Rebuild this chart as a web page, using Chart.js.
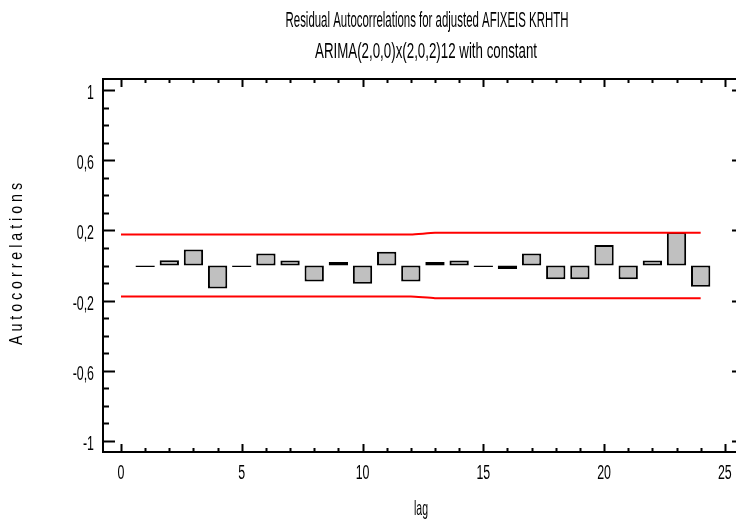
<!DOCTYPE html>
<html>
<head>
<meta charset="utf-8">
<script src="https://cdn.jsdelivr.net/npm/chart.js@4.4.1/dist/chart.umd.min.js"></script>
<style>
  html, body { margin: 0; padding: 0; background: #fff; overflow: hidden; }
  #wrap { width: 745px; height: 525px; }
</style>
</head>
<body>
<div id="wrap"><canvas id="acf"></canvas></div>
<script>
// residual autocorrelations by lag
const lags = [1, 2, 3, 4, 5, 6, 7, 8, 9, 10, 11, 12, 13, 14, 15, 16, 17, 18, 19, 20, 21, 22, 23, 24]
const acf = [-0.008, 0.030, 0.092, -0.132, -0.008, 0.068, 0.028, -0.091, 0.02, -0.104, 0.079, -0.091,
             0.02, 0.028, -0.008, -0.02, 0.068, -0.079, -0.079, 0.117, -0.079, 0.028, 0.192, -0.121]

// 95% probability limits
const limitLags = [0, 1, 2, 3, 4, 5, 6, 7, 8, 9, 10, 11, 12, 13, 14, 15, 16, 17, 18, 19, 20, 21, 22, 23, 24]
const upperLimit = [0.177, 0.177, 0.177, 0.177, 0.177, 0.177, 0.177, 0.177, 0.177, 0.177, 0.177, 0.177, 0.177,
                    0.187, 0.187, 0.187, 0.187, 0.187, 0.187, 0.187, 0.187, 0.187, 0.187, 0.187, 0.187]
const lowerLimit = [-0.177, -0.177, -0.177, -0.177, -0.177, -0.177, -0.177, -0.177, -0.177, -0.177, -0.177, -0.177, -0.177,
                    -0.187, -0.187, -0.187, -0.187, -0.187, -0.187, -0.187, -0.187, -0.187, -0.187, -0.187, -0.187]

// tick labels
const xTicks = [0, 5, 10, 15, 20, 25]
const yTicks = [-1, -0.6, -0.2, 0.2, 0.6, 1]

const titleText = 'Residual Autocorrelations for adjusted AFIXEIS KRHTH'
const subtitleText = 'ARIMA(2,0,0)x(2,0,2)12 with constant'
const yTitle = 'A u t o c o r r e l a t i o n s'
const xTitle = 'lag'

const FONT = "'Liberation Sans', Arial, sans-serif"

function fmt(v) {
  return String(+v.toFixed(2)).replace('.', ',')
}

// squeezed text, the original uses a very condensed face
function squeezed(ctx, text, x, y, size, sx, align, vertical) {
  ctx.save()
  ctx.translate(x, y)
  if (vertical) ctx.rotate(-Math.PI / 2)
  ctx.scale(sx, 1)
  ctx.font = size + 'px ' + FONT
  ctx.fillStyle = '#000'
  ctx.textAlign = align
  ctx.textBaseline = vertical ? 'middle' : 'alphabetic'
  ctx.fillText(text, 0, 0)
  ctx.restore()
}

function fitted(ctx, text, x, y, size, width, vertical) {
  ctx.save()
  ctx.font = size + 'px ' + FONT
  const w = ctx.measureText(text).width
  ctx.restore()
  squeezed(ctx, text, x, y, size, width / w, 'center', vertical)
}

const framePlugin = {
  id: 'frame',
  afterDraw(chart) {
    const { ctx, chartArea: a, scales } = chart
    const xs = scales.x, ys = scales.y
    ctx.save()
    ctx.strokeStyle = '#000'
    ctx.lineWidth = 2
    ctx.strokeRect(a.left, a.top, a.right - a.left, a.bottom - a.top)

    ctx.beginPath()
    // y ticks, minor every 0.1
    for (let i = -10; i <= 10; i++) {
      const v = i / 10
      const py = Math.round(ys.getPixelForValue(v)) + 0.5
      const major = yTicks.some(t => Math.abs(t - v) < 1e-9)
      ctx.moveTo(a.left, py)
      ctx.lineTo(a.left + (major ? 12 : 6), py)
      if (major) {
        ctx.moveTo(a.right, py)
        ctx.lineTo(a.right - 9, py)
      }
    }
    // x ticks, minor every lag
    for (let v = 0; v <= 25; v++) {
      const px = Math.round(xs.getPixelForValue(v)) + 0.5
      const len = v % 5 === 0 ? 8 : 4
      ctx.moveTo(px, a.bottom)
      ctx.lineTo(px, a.bottom - len)
      ctx.moveTo(px, a.top)
      ctx.lineTo(px, a.top + len)
    }
    ctx.stroke()
    ctx.restore()

    yTicks.forEach(v => squeezed(ctx, fmt(v), 94, ys.getPixelForValue(v) + 9, 20, 0.62, 'right'))
    xTicks.forEach(v => squeezed(ctx, fmt(v), xs.getPixelForValue(v), 479, 20, 0.62, 'center'))

    fitted(ctx, titleText, 427, 27, 22, 283)
    fitted(ctx, subtitleText, 426, 58, 22, 222)
    fitted(ctx, yTitle, 17, 264, 18, 162, true)
    fitted(ctx, xTitle, 421, 515, 21, 14)
  }
}

new Chart(document.getElementById('acf'), {
  type: 'bar',
  data: {
    datasets: [{
      type: 'bar',
      label: 'acf',
      data: lags.map((x, i) => ({ x: x, y: acf[i] })),
      backgroundColor: '#c0c0c0',
      borderColor: '#000',
      borderWidth: 2,
      borderSkipped: false,
      barPercentage: 0.8,
      categoryPercentage: 1,
      order: 2
    }, {
      type: 'line',
      label: 'upper',
      data: limitLags.map((x, i) => ({ x: x, y: upperLimit[i] })),
      borderColor: '#ff0000',
      borderWidth: 2,
      pointRadius: 0,
      fill: false,
      tension: 0.2,
      order: 1
    }, {
      type: 'line',
      label: 'lower',
      data: limitLags.map((x, i) => ({ x: x, y: lowerLimit[i] })),
      borderColor: '#ff0000',
      borderWidth: 2,
      pointRadius: 0,
      fill: false,
      tension: 0.2,
      order: 1
    }]
  },
  options: {
    responsive: true,
    maintainAspectRatio: false,
    animation: false,
    layout: { padding: { left: 0, top: 79, right: 4, bottom: 0 } },
    plugins: {
      legend: { display: false },
      tooltip: { enabled: false },
      title: { display: false }
    },
    scales: {
      x: {
        type: 'linear',
        offset: false,
        min: -0.745,
        max: 25.67,
        grid: { display: false },
        border: { display: false },
        ticks: { display: false },
        afterFit(scale) { scale.height = 73 }
      },
      y: {
        min: -1.065,
        max: 1.065,
        grid: { display: false },
        border: { display: false },
        ticks: { display: false },
        afterFit(scale) { scale.width = 103 }
      }
    }
  },
  plugins: [framePlugin]
})
</script>
</body>
</html>
